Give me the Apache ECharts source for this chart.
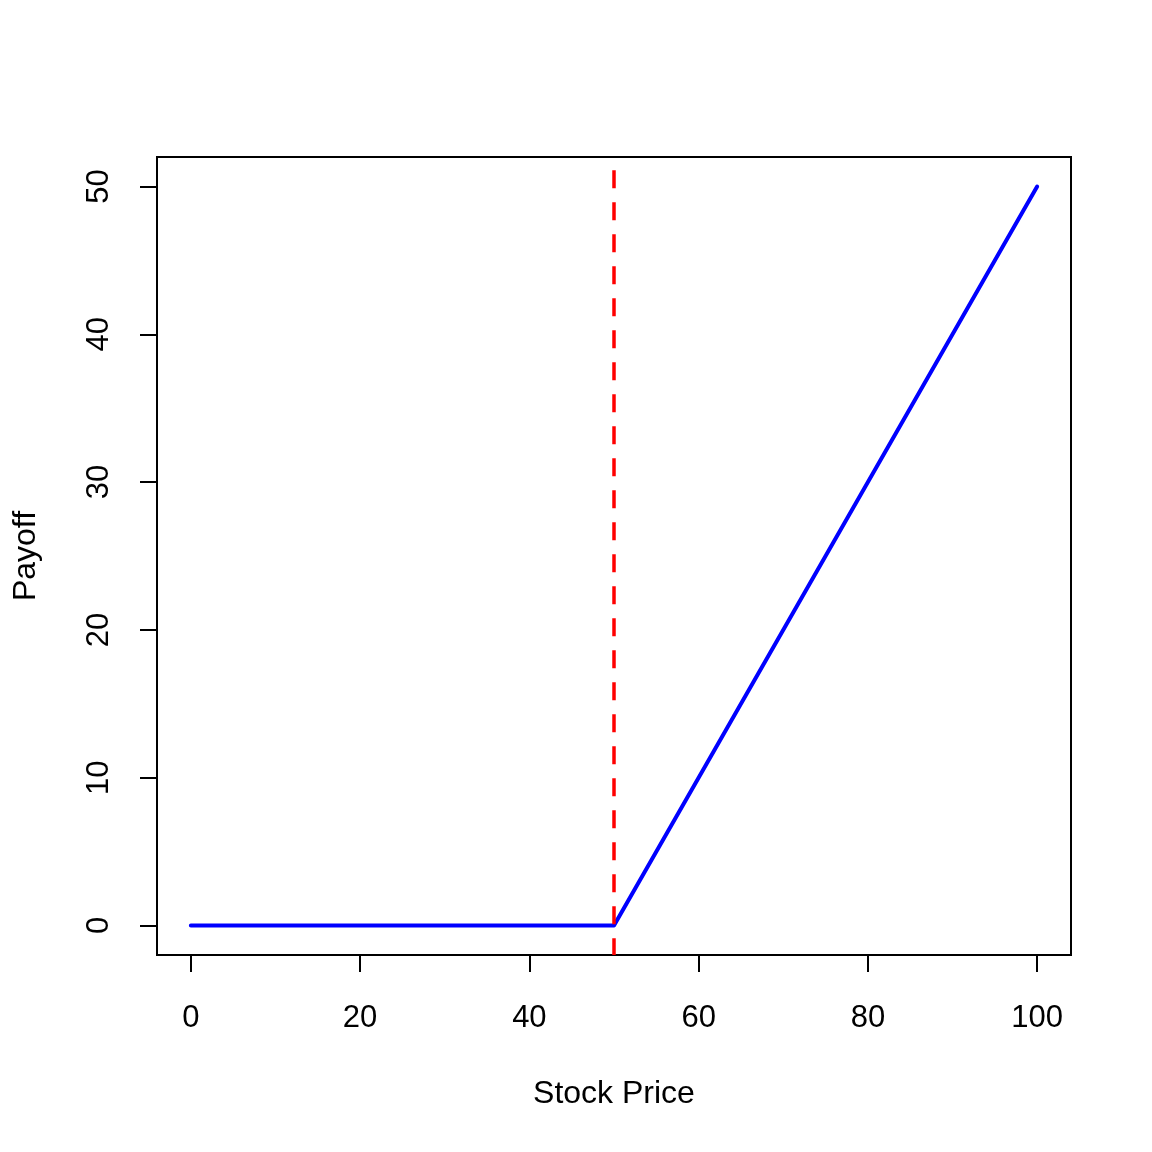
<!DOCTYPE html>
<html>
<head>
<meta charset="utf-8">
<script src="https://cdn.jsdelivr.net/npm/echarts@6/dist/echarts.min.js"></script>
<style>
html,body{margin:0;padding:0;background:#fff;}
#chart{width:1152px;height:1152px;}
</style>
</head>
<body>
<div id="chart"></div>
<script>
// Data
const stockPrice = [0, 50, 100];
const payoff = [0, 0, 50];
const strikePrice = 50;
const strikeLineTop = 51.1;
const xTicks = [0, 20, 40, 60, 80, 100];
const yTicks = [0, 10, 20, 30, 40, 50];
const xRange = [-4, 104];
const yRange = [-2, 52];

const font = 'Liberation Sans, Arial, Helvetica, sans-serif';
const chart = echarts.init(document.getElementById('chart'), null, {renderer: 'canvas'});

const seriesData = stockPrice.map((s, i) => [s, payoff[i]]);

chart.setOption({
  animation: false,
  backgroundColor: '#ffffff',
  grid: {
    left: 157, right: 81, top: 157, bottom: 197,
    show: true, borderColor: '#000', borderWidth: 2, backgroundColor: 'transparent'
  },
  xAxis: {
    type: 'value', min: xRange[0], max: xRange[1],
    name: 'Stock Price', nameLocation: 'middle', nameGap: 123,
    nameTextStyle: {fontFamily: font, fontSize: 32, color: '#000'},
    axisLine: {show: false, onZero: false},
    splitLine: {show: false},
    axisTick: {show: true, inside: false, length: 17, customValues: xTicks, lineStyle: {color: '#000', width: 2}},
    axisLabel: {show: true, customValues: xTicks, margin: 48, fontFamily: font, fontSize: 31, color: '#000'}
  },
  yAxis: {
    type: 'value', min: yRange[0], max: yRange[1],
    name: 'Payoff', nameLocation: 'middle', nameGap: 115, nameRotate: 90,
    nameTextStyle: {fontFamily: font, fontSize: 32, color: '#000'},
    axisLine: {show: false, onZero: false},
    splitLine: {show: false},
    axisTick: {show: true, inside: false, length: 17, customValues: yTicks, lineStyle: {color: '#000', width: 2}},
    axisLabel: {show: true, customValues: yTicks, rotate: 90, margin: 42, fontFamily: font, fontSize: 31, color: '#000'}
  },
  series: [{
    type: 'line',
    data: seriesData,
    showSymbol: false,
    symbol: 'none',
    lineStyle: {color: '#0000ff', width: 4, cap: 'round', join: 'round'},
    z: 3,
    markLine: {
      silent: true,
      symbol: ['none', 'none'],
      label: {show: false},
      lineStyle: {color: '#ff0000', width: 3.5, type: [18, 14], cap: 'butt'},
      z: 4,
      data: [[{coord: [strikePrice, strikeLineTop]}, {coord: [strikePrice, yRange[0]]}]]
    }
  }]
});
</script>
</body>
</html>
